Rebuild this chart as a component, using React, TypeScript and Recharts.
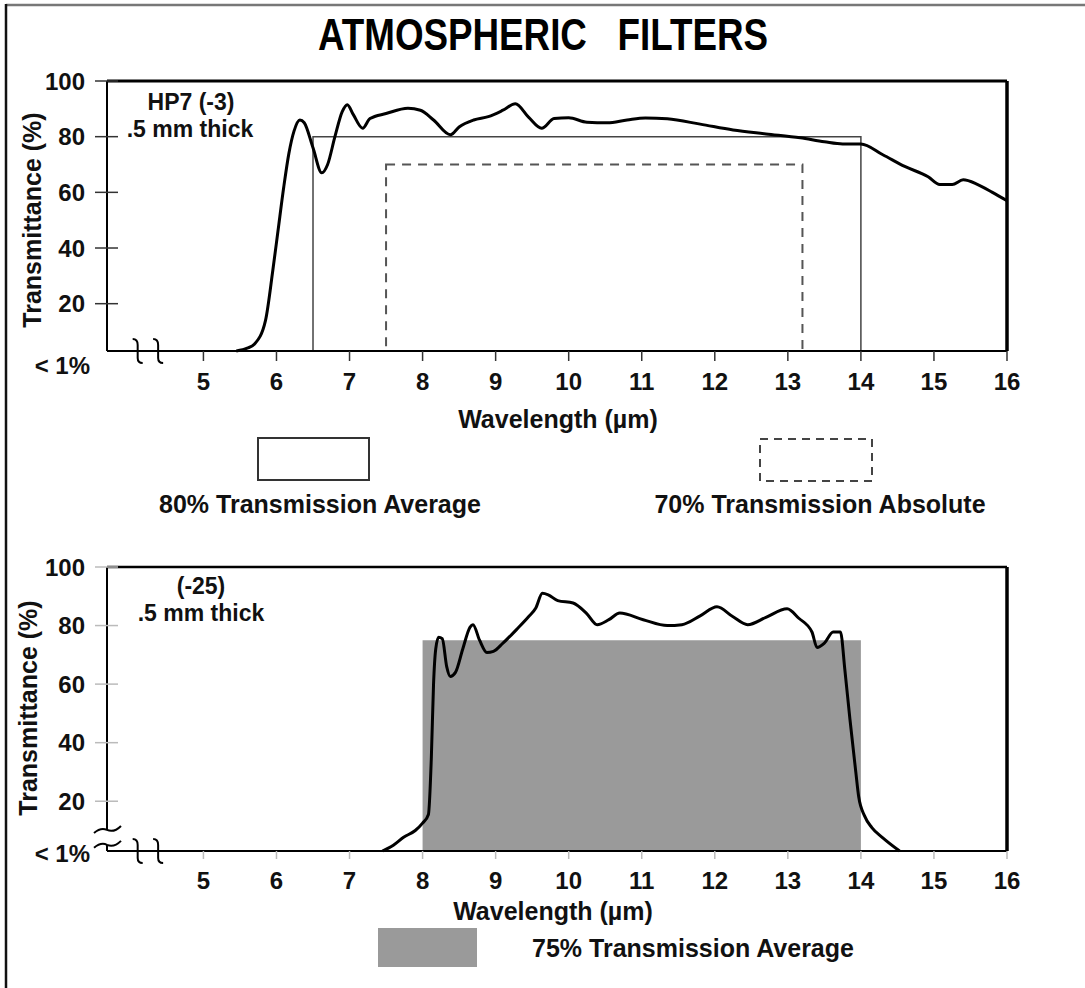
import React from 'react';
import { ComposedChart, Line, Scatter, XAxis, YAxis, ReferenceArea, ReferenceLine } from 'recharts';

const FONT = '"Liberation Sans", Arial, Helvetica, sans-serif';

const xTicks = [5, 6, 7, 8, 9, 10, 11, 12, 13, 14, 15, 16];
const yTicks = [3, 20, 40, 60, 80, 100];
const xDomain = [3.68, 16];
const yDomain = [3, 100];

// HP7 (-3), .5 mm thick
const hp7Wavelength = [
  5.45, 5.6, 5.7, 5.85, 5.95, 6.02, 6.1, 6.17, 6.24, 6.32, 6.38, 6.5, 6.62, 6.7, 6.8, 6.9, 6.97,
  7.05, 7.18, 7.28, 7.5, 7.8, 7.97, 8.15, 8.38, 8.5, 8.7, 8.9, 9.1, 9.27, 9.45, 9.63, 9.8, 10.0,
  10.25, 10.53, 10.8, 11.05, 11.35, 11.8, 12.25, 12.7, 13.17, 13.5, 13.75, 14.0, 14.3, 14.6,
  14.92, 15.08, 15.25, 15.4, 15.6, 15.8, 16,
];
const hp7Transmittance = [
  3, 4, 5.5, 14, 32, 46, 62, 74, 82, 86, 85, 76, 67, 70, 80, 89, 91.5,
  88, 83, 86.5, 88.3, 90.2, 89.5, 86, 80.7, 83.5, 86, 87.2, 89.5, 91.8, 87, 83, 86.5, 86.8,
  85.2, 85, 86, 86.7, 86.4, 84.5, 82.4, 81, 79.6, 78.2, 77.4, 77.4, 73.5, 69.3,
  65.6, 62.8, 62.8, 64.5, 62.8, 60, 57,
];

// (-25), .5 mm thick
const f25Wavelength = [
  7.45, 7.6, 7.74, 7.9, 8.0, 8.08, 8.12, 8.15, 8.18, 8.22, 8.27, 8.33, 8.38, 8.45, 8.55, 8.65,
  8.69, 8.78, 8.88, 8.97, 9.1, 9.3, 9.45, 9.55, 9.64, 9.72, 9.85, 10.06, 10.25, 10.39, 10.55,
  10.7, 11.02, 11.35, 11.55, 11.8, 12.03, 12.25, 12.45, 12.7, 12.99, 13.15, 13.33, 13.4, 13.5,
  13.62, 13.72, 13.78, 13.85, 13.93, 13.97, 14.05, 14.15, 14.3, 14.53,
];
const f25Transmittance = [
  3, 5, 7.7, 10, 12.5, 15.5, 35, 60, 72, 76, 75.5, 66, 62.6, 64, 72, 79.5,
  80.3, 75, 70.8, 71.2, 74, 79, 83, 86, 91, 90.5, 88.5, 87.7, 84, 80.3, 82,
  84.3, 82, 80, 80.3, 83.3, 86.4, 83, 80.3, 82.8, 85.7, 82.5, 77.8, 72.5, 74,
  77.8, 77.8, 65, 48, 30, 21.5, 15, 11, 7.5, 3,
];

// bands: [from, to, level]
const hp7AverageBand = [6.5, 14, 80];
const hp7AbsoluteBand = [7.5, 13.2, 70];
const f25AverageBand = [8, 14, 75];

// axis break marks
const xBreaks = [4.1, 4.38];
const yBreaks = [10.2, 5.1];

const hp7Data = hp7Wavelength.map((x, i) => ({ x, y: hp7Transmittance[i] }));
const f25Data = f25Wavelength.map((x, i) => ({ x, y: f25Transmittance[i] }));
const xBreakData = xBreaks.map((x) => ({ x, y: yDomain[0] }));
const yBreakData = yBreaks.map((y) => ({ x: xDomain[0], y }));

const VBreak = (props: any) => {
  const { cx, cy } = props;
  return (
    <path
      d={`M${cx - 5},${cy - 12} Q${cx},${cy - 12} ${cx},${cy - 6} L${cx},${cy + 7} Q${cx},${cy + 12} ${cx + 5},${cy + 12}`}
      fill="none"
      stroke="#000"
      strokeWidth={2}
    />
  );
};

const HBreak = (props: any) => {
  const { cx, cy } = props;
  return (
    <path
      d={`M${cx - 13},${cy + 3} Q${cx - 6},${cy - 3} ${cx},${cy} Q${cx + 7},${cy + 3} ${cx + 14},${cy - 4}`}
      fill="none"
      stroke="#000"
      strokeWidth={2}
    />
  );
};

const makeYTick = (tickColor: string, lowDy: number) => (props: any) => {
  const { x, y, payload } = props;
  const ax = x + 22;
  const textStyle = { fontFamily: FONT, fontSize: 24, fontWeight: 700, fill: '#111' };
  if (payload.value === yDomain[0]) {
    return (
      <text x={x + 5} y={y + lowDy} textAnchor="end" dominantBaseline="central" style={textStyle}>
        {'< 1%'}
      </text>
    );
  }
  return (
    <g>
      <line x1={ax - 12} x2={ax + 11} y1={y} y2={y} stroke={tickColor} strokeWidth={1.5} />
      <text x={x} y={y} textAnchor="end" dominantBaseline="central" style={textStyle}>
        {payload.value}
      </text>
    </g>
  );
};

const tickFont = { fontFamily: FONT, fontSize: 24, fontWeight: 700, fill: '#111' };
const labelStyle: React.CSSProperties = { fontFamily: FONT, fontSize: 25, fontWeight: 700, fill: '#111' };
const noteStyle: React.CSSProperties = { fontFamily: FONT, fontSize: 23, fontWeight: 700, fill: '#111' };

function TopChart() {
  return (
    <ComposedChart width={1085} height={421} margin={{ top: 81, right: 78, left: 8, bottom: 0 }}>
      <XAxis
        type="number"
        dataKey="x"
        domain={xDomain}
        ticks={xTicks}
        height={70}
        axisLine={{ stroke: '#000', strokeWidth: 2 }}
        tickLine={{ stroke: '#333', strokeWidth: 1.5 }}
        tickSize={10}
        tickMargin={12}
        tick={tickFont}
      />
      <YAxis
        type="number"
        dataKey="y"
        domain={yDomain}
        ticks={yTicks}
        width={99}
        axisLine={{ stroke: '#000', strokeWidth: 2 }}
        tickLine={false}
        tickSize={12}
        tickMargin={10}
        tick={makeYTick('#333', 14)}
      />
      <ReferenceArea
        x1={hp7AverageBand[0]}
        x2={hp7AverageBand[1]}
        y1={yDomain[0]}
        y2={hp7AverageBand[2]}
        fill="none"
        fillOpacity={0}
        stroke="#444"
        strokeWidth={1.5}
      />
      <ReferenceArea
        x1={hp7AbsoluteBand[0]}
        x2={hp7AbsoluteBand[1]}
        y1={yDomain[0]}
        y2={hp7AbsoluteBand[2]}
        fill="none"
        fillOpacity={0}
        stroke="#555"
        strokeWidth={2}
        strokeDasharray="9 7"
      />
      <ReferenceLine y={yDomain[1]} stroke="#000" strokeWidth={3} />
      <ReferenceLine x={xDomain[1]} stroke="#000" strokeWidth={3.5} />
      <Line
        data={hp7Data}
        dataKey="y"
        type="monotone"
        stroke="#000"
        strokeWidth={3}
        dot={false}
        isAnimationActive={false}
      />
      <Scatter data={xBreakData} dataKey="y" shape={VBreak} isAnimationActive={false} />
    </ComposedChart>
  );
}

function BottomChart() {
  return (
    <ComposedChart width={1085} height={431} margin={{ top: 87, right: 78, left: 8, bottom: 0 }}>
      <XAxis
        type="number"
        dataKey="x"
        domain={xDomain}
        ticks={xTicks}
        height={60}
        axisLine={{ stroke: '#000', strokeWidth: 2 }}
        tickLine={{ stroke: '#bbb', strokeWidth: 1.5 }}
        tickSize={8}
        tickMargin={13}
        tick={tickFont}
      />
      <YAxis
        type="number"
        dataKey="y"
        domain={yDomain}
        ticks={yTicks}
        width={99}
        axisLine={false}
        tickLine={false}
        tickSize={12}
        tickMargin={10}
        tick={makeYTick('#bbb', 2)}
      />
      <ReferenceArea
        x1={f25AverageBand[0]}
        x2={f25AverageBand[1]}
        y1={yDomain[0]}
        y2={f25AverageBand[2]}
        fill="#9a9a9a"
        fillOpacity={1}
        stroke="none"
      />
      <ReferenceLine
        segment={[{ x: xDomain[0], y: yBreaks[0] }, { x: xDomain[0], y: yDomain[1] }]}
        stroke="#000"
        strokeWidth={2}
      />
      <ReferenceLine
        segment={[{ x: xDomain[0], y: yDomain[0] }, { x: xDomain[0], y: yBreaks[1] }]}
        stroke="#000"
        strokeWidth={2}
      />
      <ReferenceLine y={yDomain[1]} stroke="#000" strokeWidth={2.5} />
      <ReferenceLine x={xDomain[1]} stroke="#000" strokeWidth={3.5} />
      <Line
        data={f25Data}
        dataKey="y"
        type="monotone"
        stroke="#000"
        strokeWidth={3}
        dot={false}
        isAnimationActive={false}
      />
      <Scatter data={xBreakData} dataKey="y" shape={VBreak} isAnimationActive={false} />
      <Scatter data={yBreakData} dataKey="y" shape={HBreak} isAnimationActive={false} />
    </ComposedChart>
  );
}

function Overlay() {
  return (
    <svg width={1085} height={988} style={{ position: 'absolute', left: 0, top: 0, pointerEvents: 'none' }}>
      {/* frame */}
      <line x1={6} x2={1085} y1={5} y2={5} stroke="#777" strokeWidth={2.5} />
      <line x1={6} x2={6} y1={4} y2={988} stroke="#111" strokeWidth={2.5} />

      {/* title */}
      <text x={318} y={50} textLength={450} lengthAdjust="spacingAndGlyphs"
        style={{ fontFamily: FONT, fontSize: 45, fontWeight: 700, fill: '#000', whiteSpace: 'pre' }}>
        {'ATMOSPHERIC   FILTERS'}
      </text>

      {/* top chart annotations */}
      <text x={191} y={110} textAnchor="middle" style={noteStyle}>HP7 (-3)</text>
      <text x={190} y={137} textAnchor="middle" style={noteStyle}>.5 mm thick</text>
      <text transform="translate(41,220) rotate(-90)" textAnchor="middle" style={labelStyle}>Transmittance (%)</text>
      <text x={558} y={428} textAnchor="middle" style={labelStyle}>Wavelength (µm)</text>

      {/* top legend */}
      <rect x={258} y={438} width={111} height={42} fill="none" stroke="#333" strokeWidth={2} />
      <text x={320} y={513} textAnchor="middle" style={labelStyle}>80% Transmission Average</text>
      <rect x={760} y={439} width={112} height={42} fill="none" stroke="#444" strokeWidth={2} strokeDasharray="8 6" />
      <text x={820} y={513} textAnchor="middle" style={labelStyle}>70% Transmission Absolute</text>

      {/* bottom chart annotations */}
      <text x={201} y={594} textAnchor="middle" style={noteStyle}>(-25)</text>
      <text x={201} y={621} textAnchor="middle" style={noteStyle}>.5 mm thick</text>
      <text transform="translate(37,708) rotate(-90)" textAnchor="middle" style={labelStyle}>Transmittance (%)</text>
      <text x={553} y={920} textAnchor="middle" style={labelStyle}>Wavelength (µm)</text>

      {/* bottom legend */}
      <rect x={378} y={928} width={99} height={39} fill="#9a9a9a" />
      <text x={693} y={957} textAnchor="middle" style={labelStyle}>75% Transmission Average</text>
    </svg>
  );
}

export default function App() {
  return (
    <div style={{ position: 'fixed', left: 0, top: 0, width: 1085, height: 988, background: '#fff', overflow: 'hidden' }}>
      <div style={{ position: 'absolute', left: 0, top: 0 }}>
        <TopChart />
      </div>
      <div style={{ position: 'absolute', left: 0, top: 480 }}>
        <BottomChart />
      </div>
      <Overlay />
    </div>
  );
}
